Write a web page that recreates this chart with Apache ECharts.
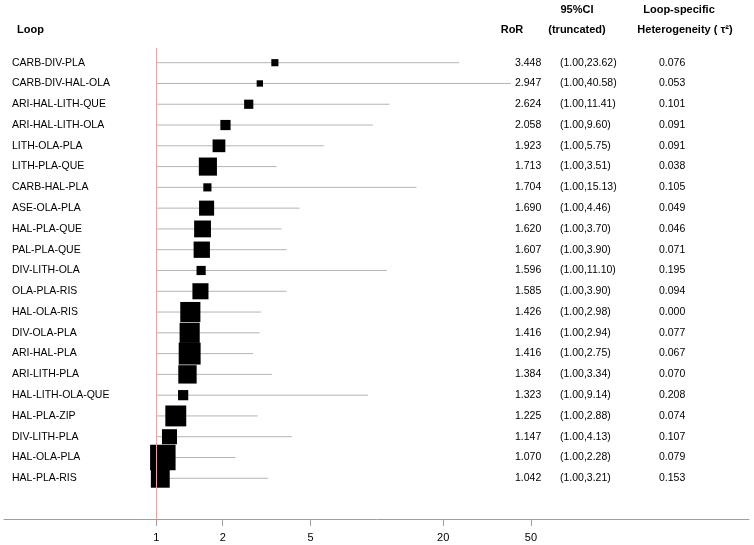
<!DOCTYPE html>
<html>
<head>
<meta charset="utf-8">
<script src="https://cdn.jsdelivr.net/npm/echarts@6/dist/echarts.min.js"></script>
<style>html,body{margin:0;padding:0;background:#fff}#c{width:754px;height:545px}</style>
</head>
<body>
<div id="c"></div>
<script>
const loops = ['CARB-DIV-PLA','CARB-DIV-HAL-OLA','ARI-HAL-LITH-QUE','ARI-HAL-LITH-OLA','LITH-OLA-PLA','LITH-PLA-QUE','CARB-HAL-PLA','ASE-OLA-PLA','HAL-PLA-QUE','PAL-PLA-QUE','DIV-LITH-OLA','OLA-PLA-RIS','HAL-OLA-RIS','DIV-OLA-PLA','ARI-HAL-PLA','ARI-LITH-PLA','HAL-LITH-OLA-QUE','HAL-PLA-ZIP','DIV-LITH-PLA','HAL-OLA-PLA','HAL-PLA-RIS'];
const ror = [3.448,2.947,2.624,2.058,1.923,1.713,1.704,1.690,1.620,1.607,1.596,1.585,1.426,1.416,1.416,1.384,1.323,1.225,1.147,1.070,1.042];
const ciLower = [1.00,1.00,1.00,1.00,1.00,1.00,1.00,1.00,1.00,1.00,1.00,1.00,1.00,1.00,1.00,1.00,1.00,1.00,1.00,1.00,1.00];
const ciUpper = [23.62,40.58,11.41,9.60,5.75,3.51,15.13,4.46,3.70,3.90,11.10,3.90,2.98,2.94,2.75,3.34,9.14,2.88,4.13,2.28,3.21];
const tau2 = [0.076,0.053,0.101,0.091,0.091,0.038,0.105,0.049,0.046,0.071,0.195,0.094,0.000,0.077,0.067,0.070,0.208,0.074,0.107,0.079,0.153];
const weights = [0.28,0.25,0.36,0.40,0.50,0.71,0.32,0.59,0.66,0.64,0.36,0.63,0.79,0.79,0.86,0.72,0.40,0.82,0.59,1.00,0.74];
const xTicks = [1,2,5,20,50];

const FONT = 'Liberation Sans, Arial, sans-serif';
const rows = loops.map((_, i) => i);
const lg = v => Math.log10(v);
const yRange = {min: -0.707, max: 21.96};

function textAxis(pos, offset, formatter) {
  return {
    type: 'value', position: pos, offset: offset, inverse: true,
    min: yRange.min, max: yRange.max,
    axisLine: {show: false}, axisTick: {show: false}, splitLine: {show: false},
    axisLabel: {
      customValues: rows, margin: pos === 'left' ? -8 : 0, align: 'left',
      color: '#000', fontSize: 10.5, fontFamily: FONT, formatter: formatter
    }
  };
}

const chart = echarts.init(document.getElementById('c'), null, {renderer: 'canvas'});
const header = (text, x, y, align) => ({
  type: 'text', x: x, y: y,
  style: {text: text, fill: '#000', font: 'bold 11px ' + FONT, textAlign: align, textVerticalAlign: 'middle'}
});
chart.setOption({
  animation: false,
  backgroundColor: '#fff',
  grid: {left: 4, right: 5, top: 48, bottom: 26, containLabel: false},
  xAxis: {
    type: 'value', min: -0.691, max: 2.688, position: 'bottom',
    axisLine: {show: true, onZero: false, lineStyle: {color: '#9e9e9e', width: 1}},
    axisTick: {show: true, customValues: xTicks.map(lg), length: 7, lineStyle: {color: '#9e9e9e'}},
    axisLabel: {customValues: xTicks.map(lg), margin: 13, color: '#000', fontSize: 11, fontFamily: FONT,
      formatter: v => String(Math.round(Math.pow(10, v)))},
    splitLine: {show: false}
  },
  yAxis: [
    textAxis('left', 0, v => loops[v] || ''),
    textAxis('right', -234, v => ror[v] !== undefined ? ror[v].toFixed(3) : ''),
    textAxis('right', -189, v => ciUpper[v] !== undefined ? '(' + ciLower[v].toFixed(2) + ',' + ciUpper[v].toFixed(2) + ')' : ''),
    textAxis('right', -90, v => tau2[v] !== undefined ? tau2[v].toFixed(3) : '')
  ],
  graphic: [
    header('Loop', 17, 30, 'left'),
    header('RoR', 512, 30, 'center'),
    header('95%CI', 577, 10, 'center'),
    header('(truncated)', 577, 30, 'center'),
    header('Loop-specific', 679, 10, 'center'),
    header('Heterogeneity ( τ²)', 685, 30, 'center')
  ],
  series: [
    {
      type: 'custom', yAxisIndex: 0, silent: true,
      data: rows.map(i => [lg(ciLower[i]), lg(ciUpper[i]), i]),
      renderItem: (params, api) => {
        const p1 = api.coord([api.value(0), api.value(2)]);
        const p2 = api.coord([api.value(1), api.value(2)]);
        return {type: 'line', shape: {x1: p1[0], y1: p1[1], x2: p2[0], y2: p2[1]},
          style: {stroke: '#b4b4b4', lineWidth: 1}};
      },
      encode: {x: [0, 1], y: 2},
      markLine: {
        silent: true, symbol: 'none', label: {show: false},
        lineStyle: {color: '#f0a0a0', width: 1, type: 'solid'},
        data: [{xAxis: lg(1)}]
      },
      z: 2
    },
    {
      type: 'scatter', yAxisIndex: 0, silent: true,
      symbol: 'rect',
      data: rows.map(i => [lg(ror[i]), i, weights[i]]),
      symbolSize: d => d[2] * 25.5,
      itemStyle: {color: '#000', opacity: 1},
      z: 3
    }
  ]
});
</script>
</body>
</html>
